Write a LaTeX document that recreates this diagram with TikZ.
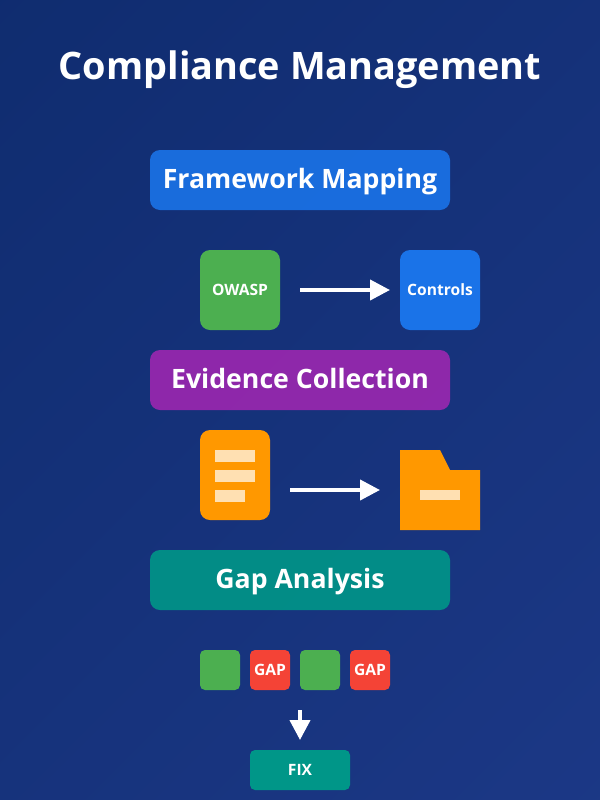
\documentclass[tikz,border=0pt]{standalone}
\usepackage{fontspec}
\setmainfont{Open Sans}
\usetikzlibrary{arrows.meta}
\definecolor{bgdark}{HTML}{0D2A6B}
\definecolor{bglight}{HTML}{1E3A8A}
\definecolor{myblue}{HTML}{1A73E8}
\definecolor{mygreen}{HTML}{4CAF50}
\definecolor{mypurple}{HTML}{9C27B0}
\definecolor{myorange}{HTML}{FF9800}
\definecolor{myteal}{HTML}{009688}
\definecolor{myred}{HTML}{F44336}
\definecolor{mybar}{HTML}{FFE0B2}
\pgfdeclareverticalshading{bggrad}{100bp}{color(0bp)=(bgdark); color(100bp)=(bglight)}
\begin{document}
\begin{tikzpicture}[x=0.75pt,y=-0.75pt,
	every node/.style={inner sep=0pt,outer sep=0pt,text=white,font=\bfseries},
	headbox/.style={rounded corners=7.5pt,minimum width=225pt,minimum height=45pt,
		fill opacity=0.9,text opacity=1,
		text height=16pt,text depth=4pt,font=\fontsize{20pt}{22pt}\bfseries},
	bigbox/.style={rounded corners=7.5pt,minimum width=60pt,minimum height=60pt,
		text height=10pt,text depth=2.5pt,font=\fontsize{11.7pt}{13pt}\bfseries},
	smallbox/.style={rounded corners=3.75pt,minimum width=30pt,minimum height=30pt,
		text height=10pt,text depth=2.5pt,font=\fontsize{11.7pt}{13pt}\bfseries},
	bar/.style={fill=mybar,minimum height=9pt},
	flow/.style={draw=white,line width=3pt,-{Triangle[width=15pt,length=15pt]}}]
	\path[use as bounding box,shading=bggrad,shading angle=225] (0,0) rectangle (600,800);
	\node[text height=25.5pt,text depth=6pt,font=\fontsize{28.4pt}{34pt}\bfseries] (title) at (300,66) {Compliance Management};
	\node[headbox,fill=myblue] (framework) at (300,180) {Framework Mapping};
	\node[bigbox,fill=mygreen] (owasp) at (240,290) {OWASP};
	\node[bigbox,fill=myblue] (controls) at (440,290) {Controls};
	\draw[flow,shorten <=15pt,shorten >=7.5pt] (owasp) -- (controls);
	\node[headbox,fill=mypurple] (evidence) at (300,380) {Evidence Collection};
	\node[rounded corners=7.5pt,fill=myorange,minimum width=52.5pt,minimum height=67.5pt] (doc) at (235,475) {};
	\node[bar,minimum width=30pt] (line1) at (235,456) {};
	\node[bar,minimum width=30pt] (line2) at (235,476) {};
	\node[bar,minimum width=22.5pt] (line3) at (230,496) {};
	\fill[myorange] (400,450) -- (440,450) -- (450,470) -- (480,470) -- (480,530) -- (400,530) -- cycle;
	\node[minimum width=60pt,minimum height=60pt] (folder) at (440,490) {};
	\node[bar,minimum width=30pt,minimum height=7.5pt] (label) at (440,495) {};
	\draw[flow,shorten <=15pt,shorten >=15pt] (doc.east |- folder.west) -- (folder.west);
	\node[headbox,fill=myteal] (gap) at (300,580) {Gap Analysis};
	\node[smallbox,fill=mygreen] (ok1) at (220,670) {};
	\node[smallbox,fill=myred] (gap1) at (270,670) {GAP};
	\node[smallbox,fill=mygreen] (ok2) at (320,670) {};
	\node[smallbox,fill=myred] (gap2) at (370,670) {GAP};
	\node[smallbox,fill=myteal,minimum width=75pt] (fix) at (300,770) {FIX};
	\draw[flow,shorten <=15pt,shorten >=7.5pt] (ok2.south west) -- (fix.north);
\end{tikzpicture}
\end{document}
